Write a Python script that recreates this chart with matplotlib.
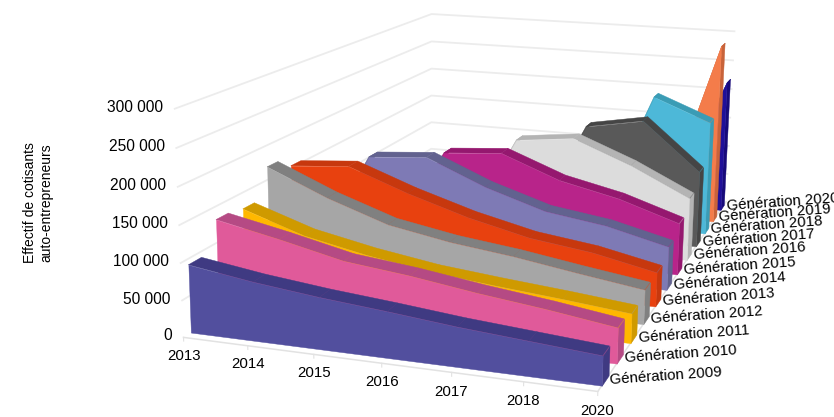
import numpy as np
import matplotlib
matplotlib.use('Agg')
import matplotlib.pyplot as plt
from mpl_toolkits.mplot3d.art3d import Poly3DCollection

plt.rcParams['font.family'] = ['Liberation Sans', 'DejaVu Sans']

years = ['2013', '2014', '2015', '2016', '2017', '2018', '2020']
ticks = [0, 50000, 100000, 150000, 200000, 250000, 300000]
tick_labels = ['0', '50 000', '100 000', '150 000', '200 000', '250 000', '300 000']
generations = ['Génération %d' % y for y in range(2009, 2021)]
g2009 = [92000, 79000, 69000, 61000, 52000, 45000, 38000]
g2010 = [132000, 114000, 94000, 84000, 71000, 60000, 47000]
g2011 = [127000, 98000, 80000, 66000, 57000, 49000, 40000]
g2012 = [169000, 132000, 102000, 86000, 75000, 61000, 48000]
g2013 = [153000, 160000, 128000, 101000, 80000, 68000, 49000]
g2014 = [0, 157000, 164000, 127000, 99000, 86000, 64000]
g2015 = [0, 0, 154000, 161000, 127000, 107000, 78000]
g2016 = [0, 0, 0, 165000, 175000, 140000, 97000]
g2017 = [0, 0, 0, 0, 178000, 194000, 120000]
g2018 = [0, 0, 0, 0, 0, 218000, 183000]
g2019 = [0, 0, 0, 0, 0, 0, 295000]
g2020 = [0, 0, 0, 0, 0, 0, 222000]
series = [g2009, g2010, g2011, g2012, g2013, g2014, g2015, g2016, g2017, g2018, g2019, g2020]
front_col = ['#524f9e', '#e05a9a', '#ffb800', '#a6a6a6', '#e8410f', '#7e7ab5', '#b8248a', '#dcdcdc', '#595959', '#4db8d8', '#f47c4a', '#1f0f99']
top_col = ['#3f3a82', '#b54a84', '#cf9a00', '#808080', '#c7380e', '#62628f', '#95186f', '#b4b4b4', '#454545', '#3a9cb5', '#c8633a', '#170a7a']

fig = plt.figure(figsize=(8.34, 4.17), dpi=100)
ax = fig.add_axes([0.1499, -0.2837, 0.8691, 1.7382], projection='3d')
ax.set_xlim(0, 6)
ax.set_ylim(0, 12)
ax.set_zlim(0, 300000)
ax.set_xticks([])
ax.set_yticks([])
ax.set_zticks([])
ax.set_axis_off()
ax.computed_zorder = False
ax.view_init(elev=13.498, azim=-72.451, roll=-0.730)
ax.set_proj_type('persp', focal_length=0.385)
ax.set_box_aspect((1.828, 3.080, 1.0))
M = ax.get_proj()


def label(x, y, z, s, **kw):
    # plain 2D text placed at the projected 3D point
    q = M @ np.array([x, y, z, 1.0])
    ax.text2D(q[0] / q[3], q[1] / q[3], s, transform=ax.transData, color='black', clip_on=False, **kw)


# walls
for t in ticks[1:]:
    ax.plot([0, 0, 6], [0, 12, 12], [t, t, t], color='#ececec', lw=1.3, zorder=1)
ax.plot([0, 6, 6], [0, 0, 12], [0, 0, 0], color='#e2e2e2', lw=1.1, zorder=1)
for u in range(7):
    ax.plot([u, u], [0, 0], [0, -5000], color='#e2e2e2', lw=0.8, zorder=1)

n = len(series)
for v in range(n - 1, -1, -1):
    vals = np.array(series[v], float)
    first = np.nonzero(vals)[0][0]
    start = first - 1 if first > 0 else 0
    us = np.arange(start, 7)
    zs = vals[start:]
    yf, yb = v + 0.25, v + 0.7
    zo = 10 + 3 * (n - v)
    tops = [[(us[i], yf, zs[i]), (us[i + 1], yf, zs[i + 1]), (us[i + 1], yb, zs[i + 1]), (us[i], yb, zs[i])] for i in range(len(us) - 1)]
    ax.add_collection3d(Poly3DCollection(tops, facecolors=top_col[v], edgecolors=top_col[v], linewidths=0.3, zorder=zo))
    side = [[(6, yf, 0), (6, yb, 0), (6, yb, zs[-1]), (6, yf, zs[-1])]]
    ax.add_collection3d(Poly3DCollection(side, facecolors=top_col[v], edgecolors=top_col[v], linewidths=0.3, zorder=zo + 1))
    front = [[(us[0], yf, 0)] + [(u, yf, z) for u, z in zip(us, zs)] + [(6, yf, 0)]]
    ax.add_collection3d(Poly3DCollection(front, facecolors=front_col[v], edgecolors=front_col[v], linewidths=0.3, zorder=zo + 2))
    label(6.1, v + 0.3, 7000, generations[v], fontsize=10.8, ha='left', va='center', rotation=4, rotation_mode='anchor', zorder=60)

for t, s in zip(ticks, tick_labels):
    label(-0.18, 0, t, s, fontsize=11.2, ha='right', va='center')
for u, y in enumerate(years):
    label(u, 0, -25000, y, fontsize=10.8, ha='center', va='center')

fig.text(38 / 834, 1 - 203 / 417, 'Effectif de cotisants\nauto-entrepreneurs', rotation=90, ha='center', va='center', fontsize=10, color='black')
fig.savefig('out.png', dpi=100)
